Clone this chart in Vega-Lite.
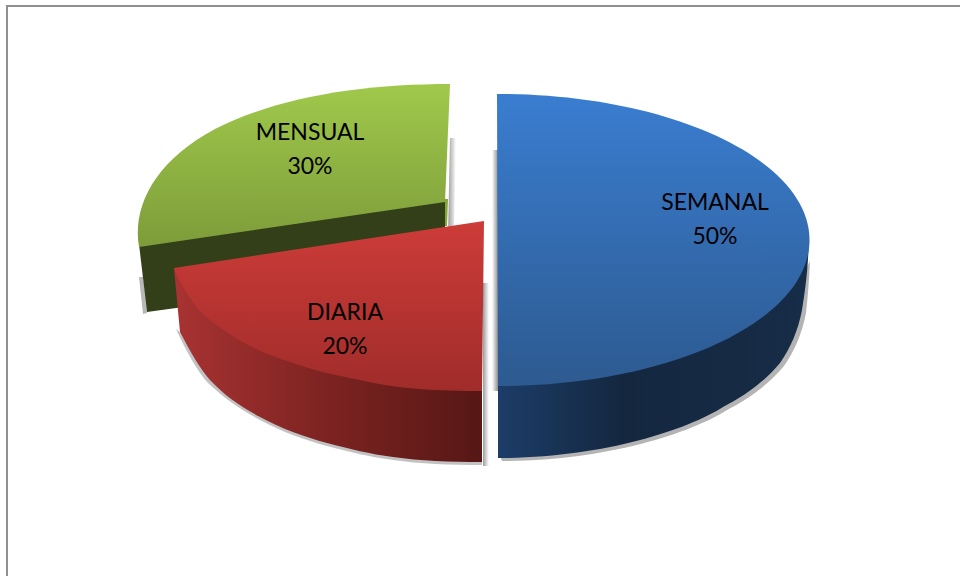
{
"$schema":"https://vega.github.io/schema/vega-lite/v6.json",
"width":966,"height":590,
"padding":{"left":7,"top":6,"right":0,"bottom":0},
"background":"#ffffff",
"view":{"stroke":"#8f8f8f","strokeWidth":2,"fill":"#ffffff"},
"data":{"values":[
{"categoria":"SEMANAL","valor":50,"etiqueta":"SEMANAL\n50%"},
{"categoria":"MENSUAL","valor":30,"etiqueta":"MENSUAL\n30%"},
{"categoria":"DIARIA","valor":20,"etiqueta":"DIARIA\n20%"}
]},
"layer":[
{"transform":[{"filter":"datum.categoria=='MENSUAL'"}],"mark":{"type":"point","size":4,"filled":true,"opacity":1,"strokeWidth":0,"shape":"M-40,-163 L-34,-163 L-36,-66 L-42,-66 Z","fill":{"x1":0,"y1":0,"x2":1,"y2":0,"gradient":"linear","stops":[{"offset":0,"color":"#9c9c9c"},{"offset":1,"color":"#ffffff"}]}}},
{"transform":[{"filter":"datum.categoria=='MENSUAL'"}],"mark":{"type":"point","size":4,"filled":true,"opacity":1,"strokeWidth":0,"shape":"M-351,-24 L-347,-24 L-343,12 L-347,13 Z","fill":"#b8b8b8"}},
{"transform":[{"filter":"datum.categoria=='MENSUAL'"}],"mark":{"type":"point","size":4,"filled":true,"opacity":1,"strokeWidth":0,"shape":"M-46,-102 L-42,-102 L-43,-75 L-46,-75 Z","fill":"#86a53c"}},
{"transform":[{"filter":"datum.categoria=='MENSUAL'"}],"mark":{"type":"point","size":4,"filled":true,"opacity":1,"strokeWidth":0,"shape":"M-45,-102 L-351,-57 L-343,11 L-45,-30 Z","fill":"#333f18"}},
{"transform":[{"filter":"datum.categoria=='MENSUAL'"}],"mark":{"type":"point","size":4,"filled":true,"opacity":1,"strokeWidth":0,"shape":"M-40,-217 L-45,-99 L-351,-54 C-358,-95 -335,-140 -275,-172 C-210,-205 -125,-217 -40,-217 Z","fill":{"x1":0,"y1":0,"x2":0,"y2":1,"gradient":"linear","stops":[{"offset":0,"color":"#a0c94b"},{"offset":1,"color":"#7d9c3a"}]}}},
{"transform":[{"filter":"datum.categoria=='DIARIA'"}],"mark":{"type":"point","size":4,"filled":true,"opacity":1,"strokeWidth":0,"shape":"M-7,-18 L-1,-18 L-1,165 L-7,165 Z","fill":{"x1":0,"y1":0,"x2":1,"y2":0,"gradient":"linear","stops":[{"offset":0,"color":"#9c9c9c"},{"offset":1,"color":"#ffffff"}]}}},
{"transform":[{"filter":"datum.categoria=='DIARIA'"}],"mark":{"type":"point","size":4,"filled":true,"opacity":1,"strokeWidth":0,"shape":"M-314,28 L-310,31 L-8,150 L-8,164 C-40,164 -70,163 -97,159 C-120,156 -140,151 -163,145 C-185,139 -208,131 -230,119 C-250,108 -265,98 -282,82 C-292,71 -304,50 -314,28 Z","fill":"#c2c2c2"}},
{"transform":[{"filter":"datum.categoria=='DIARIA'"}],"mark":{"type":"point","size":4,"filled":true,"opacity":1,"strokeWidth":0,"shape":"M-316,-33 L-310,31 C-300,50 -290,68 -280,79 C-265,95 -250,105 -230,116 C-208,128 -185,136 -163,142 C-140,148 -120,153 -97,156 C-70,160 -40,161 -8,161 L-8,80 L-300,-20 Z","fill":{"x1":0,"y1":0,"x2":1,"y2":0,"gradient":"linear","stops":[{"offset":0,"color":"#a83332"},{"offset":0.5,"color":"#7c2321"},{"offset":1,"color":"#561715"}]}}},
{"transform":[{"filter":"datum.categoria=='DIARIA'"}],"mark":{"type":"point","size":4,"filled":true,"opacity":1,"strokeWidth":0,"shape":"M-6,-80 L-8,90 C-50,90 -95,88 -130,79 C-155,74 -175,70 -197,62 C-225,53 -245,44 -263,31 C-278,22 -292,10 -297,1 C-305,-10 -312,-22 -316,-33 Z","fill":{"x1":0,"y1":0,"x2":0,"y2":1,"gradient":"linear","stops":[{"offset":0,"color":"#cd3c39"},{"offset":1,"color":"#a02c2a"}]}}},
{"transform":[{"filter":"datum.categoria=='SEMANAL'"}],"mark":{"type":"point","size":4,"filled":true,"opacity":1,"strokeWidth":0,"shape":"M2,-151 L8,-151 L8,90 L2,90 Z","fill":{"x1":0,"y1":0,"x2":1,"y2":0,"gradient":"linear","stops":[{"offset":0,"color":"#ffffff"},{"offset":1,"color":"#8f8f8f"}]}}},
{"transform":[{"filter":"datum.categoria=='SEMANAL'"}],"mark":{"type":"point","size":4,"filled":true,"opacity":1,"strokeWidth":0,"shape":"M320,-40 C319,-20 318,-5 316,12 C312,33 304,51 294,65 C279,83 259,98 237,109 C199,133 114,160 12,160 L8,150 L300,0 Z","fill":"#b4b4b4"}},
{"transform":[{"filter":"datum.categoria=='SEMANAL'"}],"mark":{"type":"point","size":4,"filled":true,"opacity":1,"strokeWidth":0,"shape":"M319,-63 C318,-30 315,-10 312,9 C308,30 300,48 290,62 C275,80 255,95 233,106 C195,130 110,157 8,157 L8,80 L300,-70 Z","fill":{"x1":0,"y1":0,"x2":1,"y2":0,"gradient":"linear","stops":[{"offset":0,"color":"#1c3d68"},{"offset":0.4,"color":"#14273f"},{"offset":1,"color":"#172c47"}]}}},
{"transform":[{"filter":"datum.categoria=='SEMANAL'"}],"mark":{"type":"point","size":4,"filled":true,"opacity":1,"strokeWidth":0,"shape":"M7,-207 A312,146 0 0 1 8,85 Z","fill":{"x1":0,"y1":0,"x2":0,"y2":1,"gradient":"linear","stops":[{"offset":0,"color":"#3a7dd0"},{"offset":1,"color":"#2d5a90"}]}}},
{"mark":{"type":"text","font":"Lato","fontSize":23,"lineHeight":34,"color":"#000000","align":"center","baseline":"middle","lineBreak":"\n"},
"encoding":{
"x":{"field":"valor","type":"quantitative","axis":null,"scale":{"domain":[20,30,50],"range":[338,303,708],"nice":false,"zero":false}},
"y":{"field":"valor","type":"quantitative","axis":null,"scale":{"domain":[20,30,50],"range":[307,127,197],"nice":false,"zero":false}},
"text":{"field":"etiqueta"}}}
]
}
